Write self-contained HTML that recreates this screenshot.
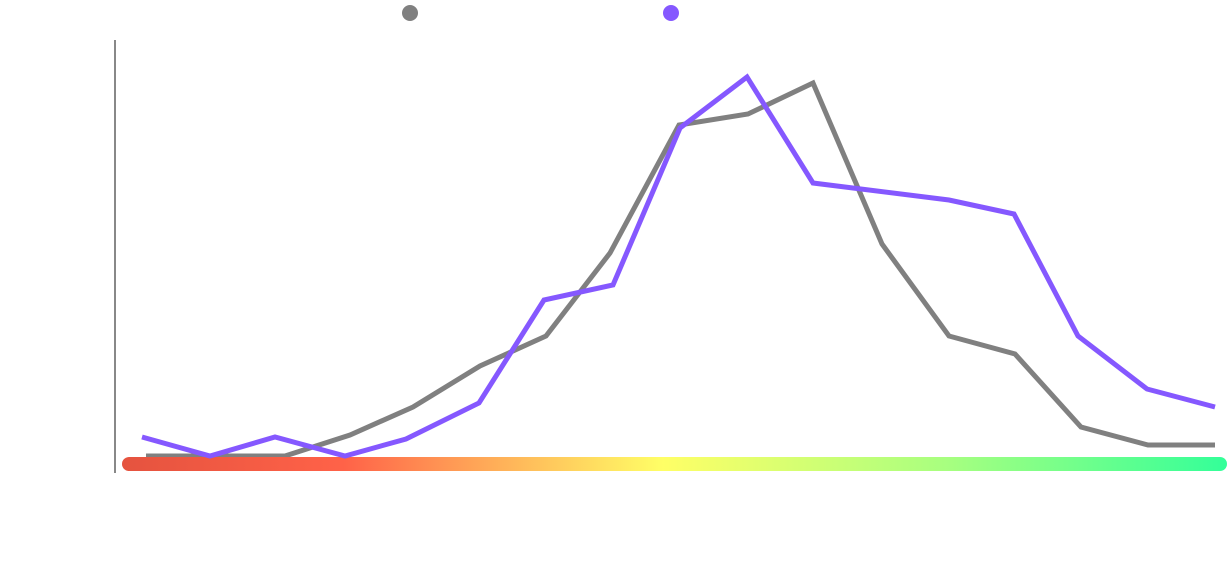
<!DOCTYPE html>
<html><head><meta charset="utf-8"><style>html,body{margin:0;padding:0;background:#fff}svg{display:block}</style></head>
<body>
<svg width="1229" height="574" viewBox="0 0 1229 574" xmlns="http://www.w3.org/2000/svg">
<defs>
<linearGradient id="g" x1="122" y1="0" x2="1227" y2="0" gradientUnits="userSpaceOnUse">
<stop offset="0" stop-color="#e5533f"/>
<stop offset="0.2" stop-color="#ff6248"/>
<stop offset="0.3" stop-color="#ff9a55"/>
<stop offset="0.49" stop-color="#ffff66"/>
<stop offset="0.75" stop-color="#a6ff80"/>
<stop offset="1" stop-color="#33ff99"/>
</linearGradient>
</defs>
<line x1="115" y1="40" x2="115" y2="473" stroke="#888" stroke-width="2"/>
<circle cx="410" cy="13" r="8" fill="#808080"/>
<circle cx="671" cy="13" r="8" fill="#8558ff"/>
<polyline fill="none" stroke="#808080" stroke-width="5" stroke-linejoin="miter" points="146,456 210,456 285,456 350,435 413,407 480,366 546,336 610,253 679,125 748,114 813,83 882,244 949,336 1015,354 1081,427 1148,445 1215,445"/>
<line x1="129" y1="464" x2="1220" y2="464" stroke="url(#g)" stroke-width="14" stroke-linecap="round"/>
<polyline fill="none" stroke="#8558ff" stroke-width="5" stroke-linejoin="miter" points="142,437 210,456 275,437 345,456 406,439 479,403 544,300 613,285 680,128 747,77 813,183 949,200 1014,214 1078,336 1147,389 1215,407"/>
</svg>
</body></html>
